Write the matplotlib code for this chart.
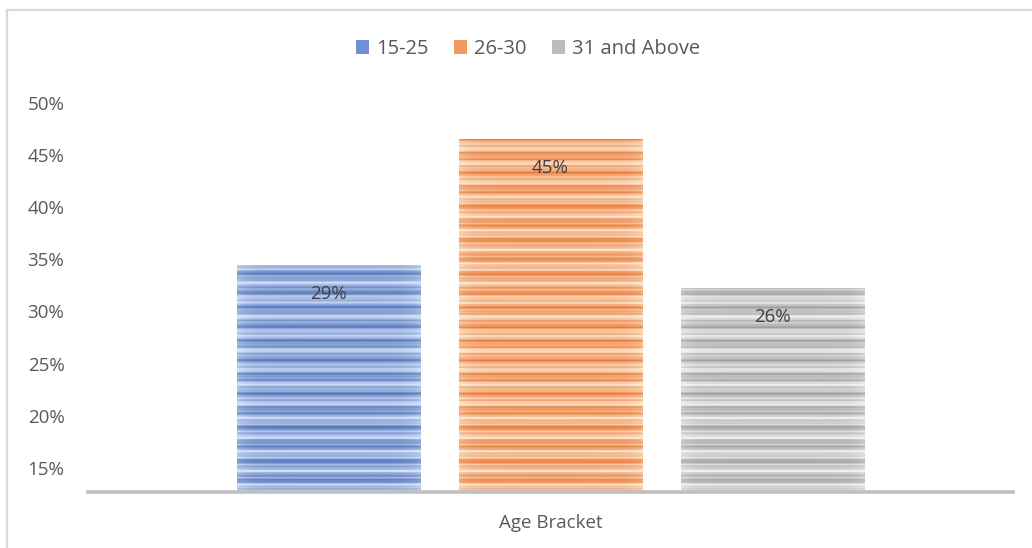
import numpy as np
import matplotlib
matplotlib.use("Agg")
import matplotlib.pyplot as plt
from matplotlib.lines import Line2D
from matplotlib.patches import Patch
from matplotlib.transforms import ScaledTranslation

# Survey share by age bracket
category = ["Age Bracket"]
series_names = ["15-25", "26-30", "31 and Above"]
shares = [29, 45, 26]
data_labels = ["29%", "45%", "26%"]
axis_ticks = [15, 20, 25, 30, 35, 40, 45, 50]

# stripe colours (dark band, light band) and legend swatch per series
dark_cols = ["#4f70b8", "#ea7a32", "#9e9e9e"]
light_cols = ["#d6e4fb", "#fde6d2", "#f2f2f2"]
mid_cols = ["#6f8fd6", "#f19a5e", "#bdbdbd"]

plt.rcParams["font.family"] = ["Open Sans", "DejaVu Sans"]
TXT = "#595959"

W, H = 1032, 548
fig = plt.figure(figsize=(W / 100, H / 100), dpi=100)

# plot area in pixels
left_px, right_px, top_px, bottom_px = 88, 1013, 90, 492
ax = fig.add_axes([left_px / W, 1 - bottom_px / H,
                   (right_px - left_px) / W, (bottom_px - top_px) / H])
bars_ax = ax.twinx()

YMAX = 51.26
ax.set_ylim(12.70, 51.22)

bar_w = 183 / 222.0
x = np.arange(len(series_names)) - 1.0

# stripe texture rows across the full bar-axis range
rows = 402
yy = np.arange(rows)
t = (0.5 + 0.24 * np.sin(2 * np.pi * yy / 17.0)
     + 0.20 * np.sin(2 * np.pi * yy / 6.7 + 1.3)
     + 0.12 * np.sin(2 * np.pi * yy / 3.3 + 0.4))
t = np.clip(t, 0, 1)

for i, (xi, v) in enumerate(zip(x, shares)):
    rect = bars_ax.bar(xi, v, width=bar_w, color=mid_cols[i], zorder=2,
                       linewidth=0)[0]
    d = np.array(matplotlib.colors.to_rgb(dark_cols[i]))
    l = np.array(matplotlib.colors.to_rgb(light_cols[i]))
    cols = 60
    xx = np.linspace(0, 1, cols)
    edge = 0.18 * (np.exp(-xx / 0.05) + np.exp(-(1 - xx) / 0.05))
    tt = np.clip(t[:, None] + edge[None, :], 0, 1)
    img = d[None, None, :] * (1 - tt[..., None]) + l[None, None, :] * tt[..., None]
    im = bars_ax.imshow(img[::-1], extent=(xi - bar_w / 2, xi + bar_w / 2, 0, YMAX),
                        aspect="auto", interpolation="bilinear", zorder=3)
    im.set_clip_path(rect)
    bars_ax.text(xi, v, data_labels[i], ha="center", va="center",
                 fontsize=13.5, color="#404040", zorder=4,
                 transform=bars_ax.transData + ScaledTranslation(
                     0, -29 / 100, fig.dpi_scale_trans))

bars_ax.set_xlim(-2.083, 2.083)
bars_ax.set_ylim(0, YMAX)
bars_ax.axis("off")
ax.set_xlim(-2.083, 2.083)

ax.set_yticks(axis_ticks)
ax.set_yticklabels([f"{t}%" for t in axis_ticks])
ax.tick_params(axis="y", length=0, pad=17, labelsize=13.5, labelcolor=TXT)
ax.set_xticks([0])
ax.set_xticklabels(category)
ax.tick_params(axis="x", length=0, pad=16, labelsize=13.5, labelcolor=TXT)
for s in ["top", "right", "left"]:
    ax.spines[s].set_visible(False)
ax.spines["bottom"].set_color("#bfbfbf")
ax.spines["bottom"].set_linewidth(2.6)
ax.spines["bottom"].set_zorder(5)
ax.set_zorder(bars_ax.get_zorder() + 1)
ax.patch.set_visible(False)

# legend
handles = [Patch(facecolor=mid_cols[i], edgecolor="none") for i in range(3)]
fig.legend(handles, series_names, loc="center", bbox_to_anchor=(528 / W, 1 - 49 / H),
           ncol=3, frameon=False, fontsize=14.5, labelcolor=TXT,
           handlelength=0.65, handleheight=0.65, handletextpad=0.35,
           columnspacing=1.25)

# chart frame
fc = "#d9d9d9"
fig.add_artist(Line2D([7 / W, 7 / W], [0, 1 - 10 / H], transform=fig.transFigure,
                      color=fc, linewidth=1.6))
fig.add_artist(Line2D([7 / W, 1], [1 - 10 / H, 1 - 10 / H], transform=fig.transFigure,
                      color=fc, linewidth=1.6))

fig.savefig("out.png", dpi=100)
